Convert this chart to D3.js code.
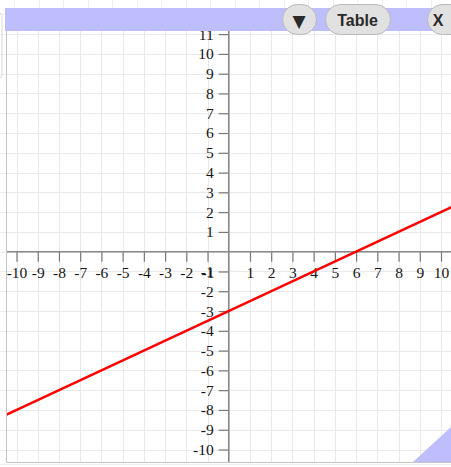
<!DOCTYPE html>
<html>
<head>
<meta charset="utf-8">
<script src="https://cdn.jsdelivr.net/npm/d3@7"></script>
<style>
  html, body { margin: 0; padding: 0; background: #fff; }
  svg { display: block; }
</style>
</head>
<body>
<script>
// ---- data ----
const xTicks = [-10,-9,-8,-7,-6,-5,-4,-3,-2,-1,1,2,3,4,5,6,7,8,9,10];
const yTicks = [-11,-10,-9,-8,-7,-6,-5,-4,-3,-2,-1,1,2,3,4,5,6,7,8,9,10,11];
const gridX = [-11,-10,-9,-8,-7,-6,-5,-4,-3,-2,-1,0,1,2,3,4,5,6,7,8,9,10,11];
const gridY = [-12,-11,-10,-9,-8,-7,-6,-5,-4,-3,-2,-1,0,1,2,3,4,5,6,7,8,9,10,11,12];
const lineX = [-11, 11];
const lineY = [-8.5, 2.5];
const buttons = ["\u25BC", "Table", "X"];

const W = 451, H = 467;
const panel = {x0: 6, x1: 451, y0: 31, y1: 462};
const band = {y0: 8, y1: 31};
const lavender = "#bebefc";

const x = d3.scaleLinear().domain([-10, 10]).range([16.5, 441]);
const y = d3.scaleLinear().domain([-10, 10]).range([449.5, 53.9]);

const svg = d3.select("body").append("svg").attr("width", W).attr("height", H);

// page background faint grid (outside panel)
const bgG = svg.append("g").attr("stroke", "#eeeeee").attr("stroke-width", 1);
d3.range(14, W, 24.5).forEach(v => {
  bgG.append("line").attr("x1", Math.round(v)+0.5).attr("x2", Math.round(v)+0.5).attr("y1", 0).attr("y2", band.y0);
});
gridY.forEach(v => {
  bgG.append("line").attr("x1", 0).attr("x2", panel.x0)
    .attr("y1", Math.round(y(v))+0.5).attr("y2", Math.round(y(v))+0.5);
});
bgG.append("line").attr("x1", 0).attr("x2", W).attr("y1", H-2.5).attr("y2", H-2.5);
svg.append("rect").attr("x", -6).attr("y", 13).attr("width", 8).attr("height", 65).attr("rx", 3)
  .attr("fill", "none").attr("stroke", "#dadada");

// clip for the panel
svg.append("defs").append("clipPath").attr("id", "pc").append("rect")
  .attr("x", panel.x0).attr("y", panel.y0).attr("width", panel.x1 - panel.x0).attr("height", panel.y1 - panel.y0);

const pg = svg.append("g").attr("clip-path", "url(#pc)");
pg.append("rect").attr("x", panel.x0).attr("y", panel.y0).attr("width", panel.x1 - panel.x0).attr("height", panel.y1 - panel.y0).attr("fill", "#fff");

// grid
const grid = pg.append("g").attr("stroke", "#e9e9e9").attr("stroke-width", 1);
gridX.forEach(v => {
  const px = Math.round(x(v)) + 0.5;
  grid.append("line").attr("x1", px).attr("x2", px).attr("y1", panel.y0).attr("y2", panel.y1);
});
gridY.forEach(v => {
  const py = Math.round(y(v)) + 0.5;
  grid.append("line").attr("x1", panel.x0).attr("x2", panel.x1).attr("y1", py).attr("y2", py);
});

// axes
const x0 = x(0), y0 = y(0);
const fmt = d => String(d);
const xAxis = d3.axisBottom(x).tickValues(xTicks).tickSize(10).tickPadding(5).tickFormat(fmt);
const yAxis = d3.axisLeft(y).tickValues(yTicks).tickSize(10).tickPadding(5).tickFormat(fmt);

const gx = pg.append("g").attr("transform", `translate(0,${y0})`).call(xAxis);
const gy = pg.append("g").attr("transform", `translate(${x0},0)`).call(yAxis);
[gx, gy].forEach(g => {
  g.select(".domain").remove();
  g.selectAll(".tick line").attr("stroke", "#777").attr("stroke-width", 1.2);
  g.selectAll(".tick text").attr("fill", "#151515")
    .style("font-family", "'Liberation Serif', 'DejaVu Serif', serif").style("font-size", "15.5px");
});

pg.append("line").attr("x1", panel.x0).attr("x2", panel.x1).attr("y1", y0).attr("y2", y0)
  .attr("stroke", "#8a8a8a").attr("stroke-width", 1.6);
pg.append("line").attr("x1", x0).attr("x2", x0).attr("y1", panel.y0).attr("y2", panel.y1)
  .attr("stroke", "#8a8a8a").attr("stroke-width", 1.6);

// red line
pg.append("path")
  .datum(lineX.map((v, i) => [v, lineY[i]]))
  .attr("d", d3.line().x(d => x(d[0])).y(d => y(d[1])))
  .attr("fill", "none").attr("stroke", "#f00").attr("stroke-width", 2.5);

// panel border
svg.append("path")
  .attr("d", `M${panel.x0+0.5},${panel.y0} V${panel.y1+0.5} H${panel.x1}`)
  .attr("fill", "none").attr("stroke", "#c4c4c4").attr("stroke-width", 1);

// resize triangle
svg.append("path").attr("d", `M413,${panel.y1} L451,${panel.y1} L451,427 Z`).attr("fill", lavender);

// header band
svg.append("rect").attr("x", 5).attr("y", band.y0).attr("width", W - 5).attr("height", band.y1 - band.y0).attr("fill", lavender);

// buttons
const btnSpec = [
  {x: 282, w: 34, tx: 299, fs: "17px", ff: "'DejaVu Sans', sans-serif", ty: 26.5},
  {x: 325, w: 65, tx: 357.5, fs: "16px", ff: "'Liberation Sans', Arial, sans-serif", ty: 25.5},
  {x: 427, w: 40, tx: 438, fs: "16px", ff: "'Liberation Sans', Arial, sans-serif", ty: 25.5}
];
const bg = svg.append("g");
buttons.forEach((label, i) => {
  const s = btnSpec[i];
  bg.append("rect").attr("x", s.x + 0.5).attr("y", 4.5).attr("width", s.w).attr("height", 30).attr("rx", 15)
    .attr("fill", "#e1e1e1").attr("stroke", "#b9b9b9").attr("stroke-width", 1);
  bg.append("text").attr("x", s.tx).attr("y", s.ty)
    .attr("text-anchor", "middle")
    .style("font-family", s.ff).style("font-weight", "bold")
    .style("font-size", s.fs).attr("fill", "#2a2a2a").text(label);
});
</script>
</body>
</html>
